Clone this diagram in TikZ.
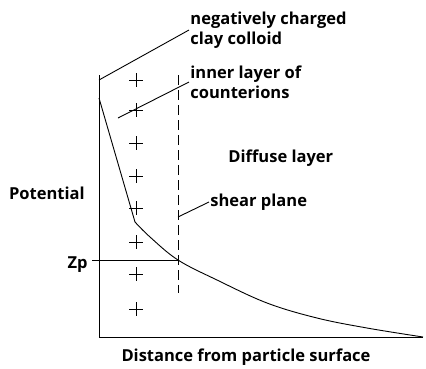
\documentclass[tikz,border=0pt]{standalone}
\usepackage{fontspec}
\setmainfont{Open Sans}
\usepackage{tikz}
\usetikzlibrary{positioning}

\begin{document}
\begin{tikzpicture}[x=1pt,y=-1pt,line width=0.9pt,every node/.style={align=left,inner sep=1pt,font=\bfseries\fontsize{16.5}{20}\selectfont},plane/.style={dash pattern=on 10pt off 5pt}]
\useasboundingbox (0,0) rectangle (426,368);
\coordinate (top) at (99,75); \coordinate (origin) at (99,337); \coordinate (xend) at (423,337);
\coordinate (peak) at (99,98); \coordinate (kink) at (135,222); \coordinate (zpcross) at (178,260);
\coordinate (zpleft) at (92,260); \coordinate (planetop) at (178,75); \coordinate (planebot) at (178,293);
\coordinate (innerfoot) at (118,118); \coordinate (shearfoot) at (178,217);
\node[anchor=west] (colloid) at (189,30) {negatively charged\\clay colloid};
\node[anchor=west] (inner) at (189,82) {inner layer of\\counterions};
\node[anchor=west] (diffuse) at (227,158) {Diffuse layer};
\node[anchor=west] (shear) at (209,202) {shear plane};
\node[anchor=east] (potential) at (86,193) {Potential};
\node[anchor=east] (zp) at (89,265) {Zp};
\node (distance) at (246,357) {Distance from particle surface};
\draw (top) -- (origin) -- (xend);
\draw[plane] (planetop) -- (planebot);
\foreach \y in {80,110,143,176,208,242,274,309} \draw (136,\y) +(-7,0) -- +(7,0) +(0,-7) -- +(0,7);
\draw (peak) -- (kink);
\draw plot[smooth,tension=0.6] coordinates {(kink) (150,237) (zpcross) (217,280) (267,303) (317,318) (367,328) (xend)};
\draw (zpleft) -- (zpcross);
\draw (top) ++(0,5) -- (colloid.west); \draw (innerfoot) -- (inner.west); \draw (shearfoot) -- (shear.west);
\end{tikzpicture}
\end{document}
